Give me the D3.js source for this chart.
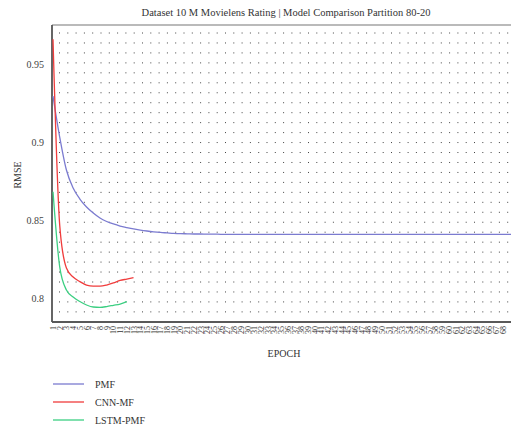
<!DOCTYPE html>
<html><head><meta charset="utf-8">
<script src="https://cdn.jsdelivr.net/npm/d3@7"></script>
<style>body{margin:0;background:#fff;overflow:hidden}svg{display:block;font-family:"Liberation Serif","DejaVu Serif",serif}</style>
</head><body>
<svg id="c" width="511" height="427"></svg>
<script>
const title = "Dataset 10 M Movielens Rating | Model Comparison Partition 80-20";
const seriesNames = ["PMF", "CNN-MF", "LSTM-PMF"];
const seriesColors = ["#7b7bd0", "#f03c3c", "#3ccf82"];
const yTicks = [0.8, 0.85, 0.9, 0.95];
const epochs = d3.range(1, 71);
const pmf = [0.930,0.9038,0.8827,0.8712,0.8641,0.859,0.8551,0.8519,0.8497,0.8481,
  0.8468,0.8458,0.8449,0.8442,0.8436,0.8431,0.8427,0.8424,0.8421,0.8419,
  0.8418,0.8417,0.8417,0.8416,0.8416,0.8415,0.8415,0.8415,0.8415,0.8415,
  0.8415,0.8415,0.8415,0.8415,0.8415,0.8415,0.8415,0.8415,0.8415,0.8415,
  0.8415,0.8415,0.8415,0.8415,0.8415,0.8415,0.8415,0.8415,0.8415,0.8415,
  0.8415,0.8415,0.8415,0.8415,0.8415,0.8415,0.8415,0.8415,0.8415,0.8415,
  0.8415,0.8415,0.8415,0.8415,0.8415,0.8415,0.8415,0.8415,0.8415,0.8415];
const cnnmf = [0.9665,0.8474,0.8199,0.8141,0.8112,0.809,0.8083,0.8083,0.809,0.8103,0.8119,0.8128,0.8137];
const lstmpmf = [0.8688,0.8206,0.8058,0.8013,0.7984,0.7962,0.7949,0.7947,0.7952,0.796,0.7968,0.7983];
const series = [pmf, cnnmf, lstmpmf];

const W = 511;
const svg = d3.select("#c");
const L = 52, T = 25, R = 520, B = 322;
const x = d3.scalePoint().domain(epochs).range([53, 516]);
const y = d3.scaleLinear().domain([0.7853, 0.9756]).range([B, T]);

// dotted grid
const g = svg.append("g");
for (let yy = 33; yy <= 313; yy += 9.96) {
  g.append("line").attr("x1", 59).attr("x2", R).attr("y1", yy).attr("y2", yy)
    .attr("stroke", "#444").attr("stroke-width", 1).attr("stroke-dasharray", "1,7.3");
}
// frame
svg.append("line").attr("x1", L).attr("x2", R).attr("y1", T).attr("y2", T).attr("stroke", "#777").attr("stroke-width", 1.2);
svg.append("line").attr("x1", L).attr("x2", R).attr("y1", B).attr("y2", B).attr("stroke", "#222").attr("stroke-width", 1.5);
svg.append("line").attr("x1", L).attr("x2", L).attr("y1", T).attr("y2", B).attr("stroke", "#555").attr("stroke-width", 1.8);

// y axis labels
svg.append("g").selectAll("text").data(yTicks).join("text")
  .attr("x", 44).attr("y", d => y(d) + 3).attr("text-anchor", "end")
  .attr("font-size", 10).attr("fill", "#444").text(d => d);

// x axis labels (those inside the visible window)
svg.append("g").selectAll("text").data(epochs.filter(d => x(d) + 4 <= W)).join("text")
  .attr("transform", d => `translate(${x(d) + 3},${B + 4}) rotate(-90)`)
  .attr("text-anchor", "end").attr("font-size", 8).attr("fill", "#333").text(d => d);

// lines
const line = d3.line().x((d, i) => x(epochs[i])).y(d => y(d)).curve(d3.curveMonotoneX);
series.forEach((s, i) => {
  svg.append("path").datum(s).attr("d", line).attr("fill", "none")
    .attr("stroke", seriesColors[i]).attr("stroke-width", 1.3);
});

// titles
svg.append("text").attr("x", 286).attr("y", 16).attr("text-anchor", "middle")
  .attr("font-size", 10.5).attr("fill", "#333").text(title);
svg.append("text").attr("transform", "translate(21,175) rotate(-90)").attr("text-anchor", "middle")
  .attr("font-size", 10).attr("fill", "#333").text("RMSE");
svg.append("text").attr("x", 284).attr("y", 357).attr("text-anchor", "middle")
  .attr("font-size", 10).attr("fill", "#333").text("EPOCH");

// legend
const lg = svg.append("g").selectAll("g").data(seriesNames).join("g")
  .attr("transform", (d, i) => `translate(53,${384 + i * 18})`);
lg.append("line").attr("x1", 0).attr("x2", 31).attr("stroke", (d, i) => seriesColors[i]).attr("stroke-width", 1.3);
lg.append("text").attr("x", 42).attr("y", 3.5).attr("font-size", 10).attr("fill", "#333").text(d => d);
</script>
</body></html>
